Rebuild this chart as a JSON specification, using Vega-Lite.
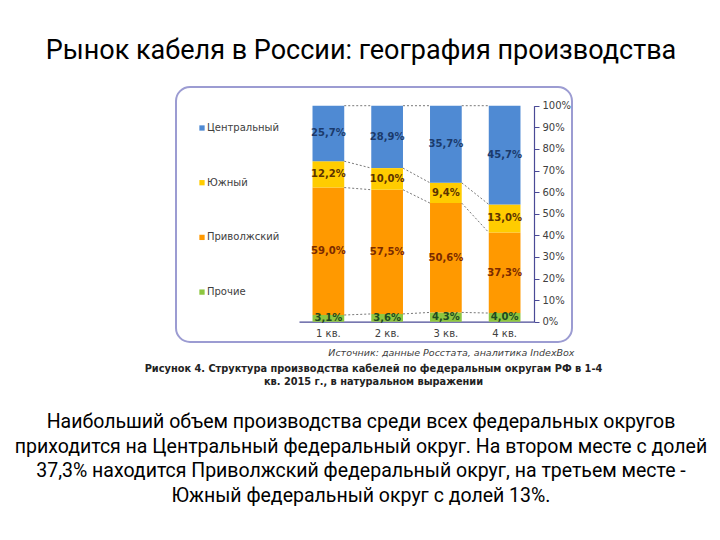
{
  "$schema": "https://vega.github.io/schema/vega-lite/v6.json",
  "background": "white",
  "padding": {"left": 13, "top": 37, "right": 5, "bottom": 5},
  "title": {
    "text": "Рынок кабеля в России: география производства",
    "font": "Roboto",
    "fontSize": 27,
    "fontWeight": "normal",
    "color": "#000000",
    "anchor": "middle",
    "offset": 21
  },
  "config": {
    "concat": {"spacing": 0}
  },
  "datasets": {
    "shares": [
      {"q": "1 кв.", "region": "Прочие", "value": 3.1},
      {"q": "1 кв.", "region": "Приволжский", "value": 59.0},
      {"q": "1 кв.", "region": "Южный", "value": 12.2},
      {"q": "1 кв.", "region": "Центральный", "value": 25.7},
      {"q": "2 кв.", "region": "Прочие", "value": 3.6},
      {"q": "2 кв.", "region": "Приволжский", "value": 57.5},
      {"q": "2 кв.", "region": "Южный", "value": 10.0},
      {"q": "2 кв.", "region": "Центральный", "value": 28.9},
      {"q": "3 кв.", "region": "Прочие", "value": 4.3},
      {"q": "3 кв.", "region": "Приволжский", "value": 50.6},
      {"q": "3 кв.", "region": "Южный", "value": 9.4},
      {"q": "3 кв.", "region": "Центральный", "value": 35.7},
      {"q": "4 кв.", "region": "Прочие", "value": 4.0},
      {"q": "4 кв.", "region": "Приволжский", "value": 37.3},
      {"q": "4 кв.", "region": "Южный", "value": 13.0},
      {"q": "4 кв.", "region": "Центральный", "value": 45.7}
    ],
    "links": [
      {"from": "1 кв.", "to": "2 кв.", "a": 3.1, "b": 3.6},
      {"from": "1 кв.", "to": "2 кв.", "a": 62.1, "b": 61.1},
      {"from": "1 кв.", "to": "2 кв.", "a": 74.3, "b": 71.1},
      {"from": "1 кв.", "to": "2 кв.", "a": 100, "b": 100},
      {"from": "2 кв.", "to": "3 кв.", "a": 3.6, "b": 4.3},
      {"from": "2 кв.", "to": "3 кв.", "a": 61.1, "b": 54.9},
      {"from": "2 кв.", "to": "3 кв.", "a": 71.1, "b": 64.3},
      {"from": "2 кв.", "to": "3 кв.", "a": 100, "b": 100},
      {"from": "3 кв.", "to": "4 кв.", "a": 4.3, "b": 4.0},
      {"from": "3 кв.", "to": "4 кв.", "a": 54.9, "b": 41.3},
      {"from": "3 кв.", "to": "4 кв.", "a": 64.3, "b": 54.3},
      {"from": "3 кв.", "to": "4 кв.", "a": 100, "b": 100}
    ]
  },
  "vconcat": [
    {
      "width": 396,
      "height": 255,
      "view": {"stroke": "#9c9cd2", "strokeWidth": 2, "cornerRadius": 14, "fill": "white"},
      "title": {
        "text": ["Наибольший объем производства среди всех федеральных округов", "приходится на Центральный федеральный округ. На втором месте с долей", "37,3% находится Приволжский федеральный округ, на третьем месте -", "Южный федеральный округ с долей 13%."],
        "orient": "bottom",
        "anchor": "middle",
        "offset": 26.5,
        "dx": -13,
        "font": "Roboto",
        "fontSize": 19.5,
        "fontWeight": "normal",
        "color": "#000000",
        "lineHeight": 24.5
      },
      "resolve": {"scale": {"color": "independent"}},
      "layer": [
        {
          "data": {"name": "shares"},
          "transform": [
            {"calculate": "indexof(['Прочие','Приволжский','Южный','Центральный'], datum.region)", "as": "ord"},
            {"stack": "value", "groupby": ["q"], "sort": [{"field": "ord", "order": "ascending"}], "as": ["v0", "v1"]}
          ],
          "mark": {"type": "bar"},
          "encoding": {
            "x": {
              "field": "q",
              "type": "nominal",
              "sort": null,
              "scale": {"range": [123, 358], "paddingInner": 0.46, "paddingOuter": 0.23},
              "axis": {
                "orient": "bottom",
                "offset": -20.3,
                "bandPosition": 0.5,
                "labelAngle": 0,
                "labelFont": "DejaVu Sans",
                "labelFontSize": 10,
                "labelColor": "#404040",
                "labelPadding": 7,
                "ticks": false,
                "domainColor": "#4a4a96",
                "domainWidth": 1.2,
                "title": ["Рисунок 4. Структура производства кабелей по федеральным округам РФ в 1-4", "кв. 2015 г., в натуральном выражении"],
                "titleFont": "DejaVu Sans",
                "titleFontSize": 9.8,
                "titleFontWeight": "bold",
                "titleColor": "#222222",
                "titleLineHeight": 13,
                "titleAnchor": "middle",
                "titleAlign": "center",
                "titleX": 197,
                "titleY": 50,
                "titleBaseline": "alphabetic"
              }
            },
            "y": {
              "field": "v0",
              "type": "quantitative",
              "scale": {"domain": [0, 100], "range": [234.7, 18.7], "nice": false},
              "axis": {
                "orient": "right",
                "offset": -38,
                "values": [0, 10, 20, 30, 40, 50, 60, 70, 80, 90, 100],
                "tickCount": 11,
                "labelExpr": "datum.value + '%'",
                "labelOverlap": false,
                "labelFont": "DejaVu Sans",
                "labelFontSize": 10,
                "labelColor": "#404040",
                "labelPadding": 3,
                "tickSize": 5,
                "tickColor": "#4a4a96",
                "domainColor": "#4a4a96",
                "domainWidth": 1.2,
                "grid": false,
                "title": "Источник: данные Росстата, аналитика IndexBox",
                "titleAngle": 0,
                "titleFont": "DejaVu Sans",
                "titleFontSize": 9.5,
                "titleFontStyle": "italic",
                "titleFontWeight": "normal",
                "titleColor": "#404040",
                "titleAlign": "right",
                "titleAnchor": "end",
                "titleX": 40,
                "titleY": 268,
                "titleBaseline": "alphabetic"
              }
            },
            "y2": {"field": "v1"},
            "color": {
              "field": "region",
              "type": "nominal",
              "scale": {
                "domain": ["Центральный", "Южный", "Приволжский", "Прочие"],
                "range": ["#4f8ad3", "#ffcc00", "#ff9900", "#8dc63f"]
              },
              "legend": {
                "orient": "none",
                "legendX": 21,
                "legendY": 36,
                "title": null,
                "symbolType": "square",
                "symbolSize": 28,
                "symbolStrokeWidth": 0,
                "labelFont": "DejaVu Sans",
                "labelFontSize": 10,
                "labelColor": "#404040",
                "labelOffset": 0,
                "rowPadding": 44.7
              }
            }
          }
        },
        {
          "data": {"name": "links"},
          "mark": {"type": "rule", "color": "#555555", "strokeWidth": 0.8, "strokeDash": [2, 2]},
          "encoding": {
            "x": {"field": "from", "type": "nominal", "bandPosition": 1},
            "x2": {"field": "to", "bandPosition": 0},
            "y": {"field": "a", "type": "quantitative"},
            "y2": {"field": "b"}
          }
        },
        {
          "data": {"name": "shares"},
          "transform": [
            {"calculate": "indexof(['Прочие','Приволжский','Южный','Центральный'], datum.region)", "as": "ord"},
            {"stack": "value", "groupby": ["q"], "sort": [{"field": "ord", "order": "ascending"}], "as": ["v0", "v1"]},
            {"calculate": "(datum.v0 + datum.v1) / 2", "as": "mid"},
            {"calculate": "replace(format(datum.value, '.1f'), '.', ',') + '%'", "as": "label"}
          ],
          "mark": {"type": "text", "font": "DejaVu Sans", "fontSize": 10, "fontWeight": "bold", "baseline": "middle"},
          "encoding": {
            "x": {"field": "q", "type": "nominal", "sort": null, "bandPosition": 0.5},
            "y": {"field": "mid", "type": "quantitative"},
            "text": {"field": "label"},
            "color": {
              "field": "region",
              "type": "nominal",
              "scale": {
                "domain": ["Центральный", "Южный", "Приволжский", "Прочие"],
                "range": ["#1b3a6b", "#5c3300", "#7a2a00", "#1f4a1f"]
              },
              "legend": null
            }
          }
        }
      ]
    }
  ]
}
